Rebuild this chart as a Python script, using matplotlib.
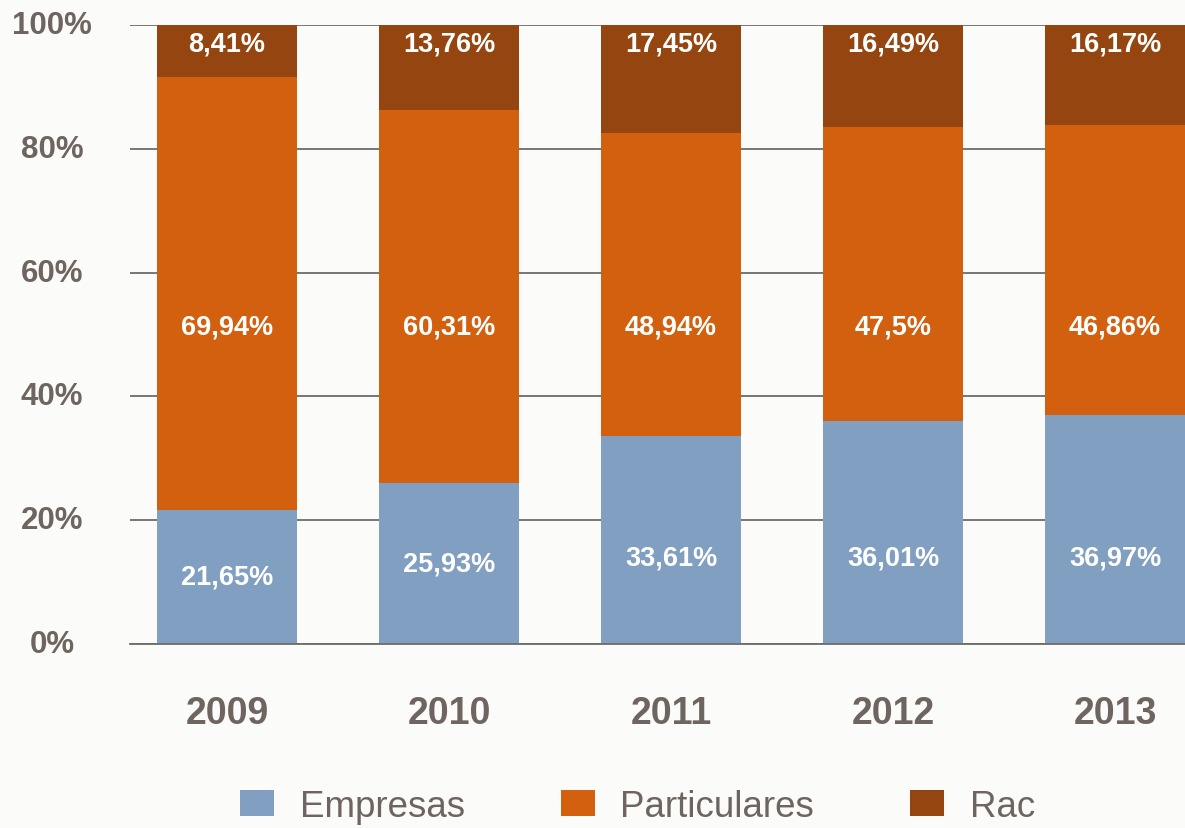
import numpy as np
import matplotlib.pyplot as plt

years = ['2009', '2010', '2011', '2012', '2013']
empresas = [21.65, 25.93, 33.61, 36.01, 36.97]
particulares = [69.94, 60.31, 48.94, 47.5, 46.86]
rac = [8.41, 13.76, 17.45, 16.49, 16.17]

emp_lbl = ['21,65%', '25,93%', '33,61%', '36,01%', '36,97%']
par_lbl = ['69,94%', '60,31%', '48,94%', '47,5%', '46,86%']
rac_lbl = ['8,41%', '13,76%', '17,45%', '16,49%', '16,17%']

c_emp = '#819fc0'
c_par = '#d2600f'
c_rac = '#954510'
grey = '#6e6460'

plt.rcParams['font.family'] = ['Liberation Sans', 'DejaVu Sans']

fig = plt.figure(figsize=(11.85, 8.29), dpi=100)
fig.patch.set_facecolor('#fbfbf9')
ax = fig.add_axes([130 / 1185, 1 - 645 / 829, 1 - 130 / 1185, (645 - 26) / 829])
ax.set_facecolor('none')

x = np.arange(len(years))
emp = np.array(empresas)
par = np.array(particulares)
rc = np.array(rac)
w = 0.63

b1 = ax.bar(x, emp, w, color=c_emp, label='Empresas', zorder=2)
b2 = ax.bar(x, par, w, bottom=emp, color=c_par, label='Particulares', zorder=2)
b3 = ax.bar(x, rc, w, bottom=emp + par, color=c_rac, label='Rac', zorder=2)

fs = 19.5
for i in range(len(years)):
    ax.text(x[i], min(emp[i] / 2, 14.0), emp_lbl[i], ha='center', va='center',
            color='white', fontsize=fs, fontweight='bold', zorder=3)
    ax.text(x[i], 51.3, par_lbl[i], ha='center', va='center',
            color='white', fontsize=fs, fontweight='bold', zorder=3)
    ax.text(x[i], 97.0, rac_lbl[i], ha='center', va='center',
            color='white', fontsize=fs, fontweight='bold', zorder=3)

ax.set_xlim(-0.437, 4.315)
ax.set_ylim(0, 100)
ax.set_yticks([0, 20, 40, 60, 80, 100])
ax.set_yticklabels(['0%', '20%', '40%', '60%', '80%', '100%'])
ax.set_xticks(x)
ax.set_xticklabels(years)
ax.tick_params(axis='y', length=0, pad=56, labelsize=22.5, labelcolor=grey)
ax.tick_params(axis='x', length=0, pad=37, labelsize=27, labelcolor=grey)
for t in ax.get_yticklabels() + ax.get_xticklabels():
    t.set_fontweight('bold')
for t in ax.get_yticklabels():
    t.set_horizontalalignment('center')
    t.set_verticalalignment('center')

ax.yaxis.grid(True, color='#6b6b6b', linewidth=1.3, zorder=0)
ax.set_axisbelow(True)
for s in ['top', 'right', 'left']:
    ax.spines[s].set_visible(False)
ax.spines['bottom'].set_color('#6b6b6b')
ax.spines['bottom'].set_linewidth(1.3)

leg = fig.legend(handles=[b1, b2, b3], loc='center', bbox_to_anchor=(0.538, 0.026),
                 ncol=3, frameon=False, fontsize=26.5, handlelength=0.92,
                 handleheight=0.72, handletextpad=0.7, columnspacing=2.6)
for t in leg.get_texts():
    t.set_color(grey)

fig.savefig('out.png', dpi=100, facecolor=fig.get_facecolor())
